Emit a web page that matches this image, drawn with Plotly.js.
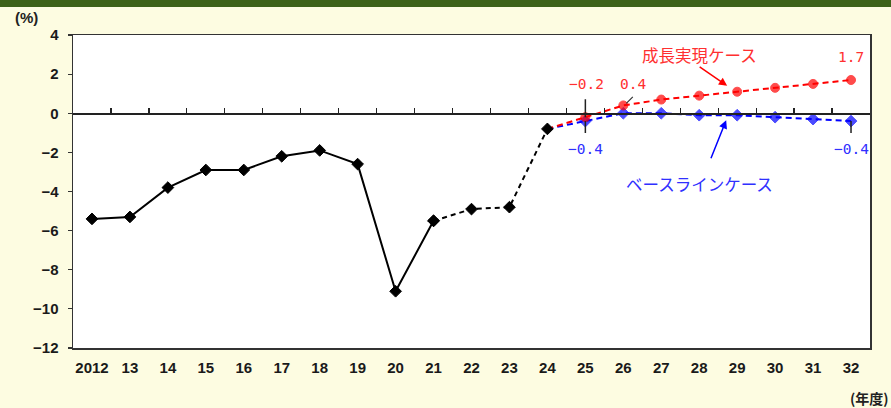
<!DOCTYPE html>
<html>
<head>
<meta charset="utf-8">
<script src="https://cdn.plot.ly/plotly-3.0.1.min.js"></script>
<style>
html,body{margin:0;padding:0;background:#FDFCE1;}
#chart{width:891px;height:408px;}
#err{position:absolute;left:100px;top:60px;color:#c00;font:12px monospace;white-space:pre;}
</style>
</head>
<body>
<div id="chart"></div>
<div id="err"></div>
<script>
window.onerror = function(m){ document.getElementById('err').textContent += m + "\n"; };
// Categories (fiscal years)
const years = ["2012","13","14","15","16","17","18","19","20","21","22","23","24","25","26","27","28","29","30","31","32"];
// Actual values (solid part): 2012-21
const actualSolid = [-5.4,-5.3,-3.8,-2.9,-2.9,-2.2,-1.9,-2.6,-9.1,-5.5,null,null,null,null,null,null,null,null,null,null,null];
// Actual / estimate (dashed part): 21-24
const actualDashed = [null,null,null,null,null,null,null,null,null,-5.5,-4.9,-4.8,-0.8,null,null,null,null,null,null,null,null];
// Growth realization case (成長実現ケース): 24-32
const growthCase = [null,null,null,null,null,null,null,null,null,null,null,null,-0.8,-0.2,0.4,0.7,0.9,1.1,1.3,1.5,1.7];
// Baseline case (ベースラインケース): 24-32
const baseCase = [null,null,null,null,null,null,null,null,null,null,null,null,-0.8,-0.4,0.0,0.0,-0.1,-0.1,-0.2,-0.3,-0.4];
const yTicks = [4,2,0,-2,-4,-6,-8,-10,-12];

const RED = "#FF0000", BLUE = "#0000FF", BLACK = "#000000";
const labelRed = "#FF3030", labelBlue = "#3030FF";
const firstIdx = arr => arr.findIndex(v => v !== null);
const sizesSkipFirst = (arr, s) => arr.map((v,i) => i === firstIdx(arr) ? 0 : s);
const fmt = v => (v < 0 ? "\u2212" : "") + Math.abs(v).toFixed(1);

const traces = [
  {x: years, y: baseCase, type: "scatter", mode: "lines+markers", cliponaxis: false,
   line: {color: BLUE, width: 2, dash: "6px,4px"},
   marker: {symbol: "diamond", size: sizesSkipFirst(baseCase, 9), color: BLUE, line: {color: BLUE, width: 1}}},
  {x: years, y: growthCase, type: "scatter", mode: "lines+markers", cliponaxis: false,
   line: {color: RED, width: 2, dash: "6px,4px"},
   marker: {symbol: "circle", size: sizesSkipFirst(growthCase, 9), color: RED, line: {color: RED, width: 1}}},
  {x: years, y: actualDashed, type: "scatter", mode: "lines+markers",
   line: {color: BLACK, width: 2, dash: "5px,4px"},
   marker: {symbol: "diamond", size: 9, color: BLACK, line: {color: BLACK, width: 1}}},
  {x: years, y: actualSolid, type: "scatter", mode: "lines+markers",
   line: {color: BLACK, width: 2},
   marker: {symbol: "diamond", size: 9, color: BLACK, line: {color: BLACK, width: 1}}},
  // carrier for the zero-line axis with ticks
  {x: years, y: years.map(() => null), xaxis: "x2", yaxis: "y", type: "scatter", mode: "markers",
   hoverinfo: "skip", showlegend: false}
];

const numFont = {family: "DejaVu Sans Mono, monospace", size: 14.5};
const jpFont = {family: "Noto Sans CJK JP, sans-serif", size: 16.5};
const ix = y => years.indexOf(y);

const annotations = [
  // value labels
  {x: ix("25"), y: growthCase[ix("25")], text: fmt(growthCase[ix("25")]), showarrow: false, xshift: 1, yshift: 33,
   font: Object.assign({}, numFont, {color: labelRed})},
  {x: ix("26"), y: growthCase[ix("26")], text: fmt(growthCase[ix("26")]), showarrow: false, xshift: 10, yshift: 21,
   font: Object.assign({}, numFont, {color: labelRed})},
  {x: ix("32"), y: growthCase[ix("32")], text: fmt(growthCase[ix("32")]), showarrow: false, yshift: 23,
   font: Object.assign({}, numFont, {color: labelRed})},
  {x: ix("25"), y: baseCase[ix("25")], text: fmt(baseCase[ix("25")]), showarrow: false, yshift: -28,
   font: Object.assign({}, numFont, {color: labelBlue})},
  {x: ix("32"), y: baseCase[ix("32")], text: fmt(baseCase[ix("32")]), showarrow: false, yshift: -28,
   font: Object.assign({}, numFont, {color: labelBlue})},
  // leader lines
  {x: ix("25"), y: growthCase[ix("25")], text: " ", showarrow: true, arrowhead: 0, ax: 0, ay: -20,
   arrowcolor: "#222", arrowwidth: 1.5, standoff: 0, font: {size: 1}},
  {x: ix("25"), y: baseCase[ix("25")], text: " ", showarrow: true, arrowhead: 0, ax: 0, ay: 14,
   arrowcolor: "#222", arrowwidth: 1.5, standoff: 0, font: {size: 1}},
  {x: ix("32"), y: baseCase[ix("32")], text: " ", showarrow: true, arrowhead: 0, ax: 0, ay: 14,
   arrowcolor: "#222", arrowwidth: 1.5, standoff: 0, font: {size: 1}},
  {x: ix("26"), y: growthCase[ix("26")], text: " ", showarrow: true, arrowhead: 0, ax: 8, ay: -8,
   xshift: 3, yshift: 2, arrowcolor: "#333", arrowwidth: 1.2, standoff: 0, font: {size: 1}},
  // case labels
  {x: ix("28"), y: 3.0, text: "成長実現ケース", showarrow: false, font: Object.assign({}, jpFont, {color: labelRed})},
  {x: ix("28"), y: -3.6, text: "ベースラインケース", showarrow: false, font: Object.assign({}, jpFont, {color: labelBlue})},
  // callout arrows
  {x: ix("29"), y: growthCase[ix("29")], text: " ", showarrow: true, arrowhead: 2, arrowsize: 1.1,
   arrowwidth: 1.5, arrowcolor: RED, ax: -29, ay: -20, xshift: -10, yshift: 6, standoff: 0, font: {size: 1}},
  {x: ix("29"), y: baseCase[ix("29")], text: " ", showarrow: true, arrowhead: 2, arrowsize: 1.1,
   arrowwidth: 1.5, arrowcolor: BLUE, ax: -16, ay: 40, xshift: -11, yshift: -5, standoff: 0, font: {size: 1}},
  // unit labels
  {xref: "paper", yref: "paper", x: -0.075, y: 1.0, yshift: 18, xanchor: "left", yanchor: "middle",
   text: "(%)", showarrow: false, font: {family: "Liberation Sans, Arial, sans-serif", size: 15, color: "#222", weight: "bold"}},
  {xref: "paper", yref: "paper", x: 1.0, xshift: 21, y: 0, yshift: -50, xanchor: "right", yanchor: "middle",
   text: "(年度)", showarrow: false, font: {family: "Noto Sans CJK JP, sans-serif", size: 14, color: "#222", weight: "bold"}}
];

const tickFont = {family: "Liberation Sans, Arial, sans-serif", size: 15, color: "#1a1a1a", weight: "bold"};

const layout = {
  width: 891, height: 408,
  margin: {l: 73, r: 21, t: 35, b: 60},
  paper_bgcolor: "#FDFCE1",
  plot_bgcolor: "#FFFFFF",
  showlegend: false,
  xaxis: {
    type: "category", range: [-0.5, years.length - 0.5], fixedrange: true,
    showgrid: false, zeroline: false,
    showline: true, linecolor: "#333", linewidth: 1.5, mirror: true,
    ticks: "", ticklabelstandoff: 5,
    tickfont: tickFont
  },
  xaxis2: {
    type: "category", overlaying: "x", anchor: "free", position: 0.75, side: "bottom",
    range: [-0.5, years.length - 0.5], fixedrange: true,
    showgrid: false, zeroline: false, showticklabels: false,
    showline: true, linecolor: "#222", linewidth: 1.5,
    ticks: "inside", tickson: "boundaries", ticklen: 5, tickwidth: 1.2, tickcolor: "#222"
  },
  yaxis: {
    range: [-12, 4], tickvals: yTicks, ticktext: yTicks.map(v => v < 0 ? "\u2212" + Math.abs(v) : String(v)),
    fixedrange: true, showgrid: false, zeroline: false,
    showline: true, linecolor: "#333", linewidth: 1.5, mirror: true,
    ticks: "outside", ticklen: 4, tickwidth: 1.2, tickcolor: "#333", ticklabelstandoff: 6,
    tickfont: tickFont
  },
  shapes: [
    {type: "rect", xref: "paper", yref: "paper", ysizemode: "pixel", yanchor: 1.0,
     x0: -0.1, x1: 1.05, y0: 35, y1: 28, fillcolor: "#3D6219", line: {width: 0}}
  ],
  annotations: annotations
};

Plotly.newPlot("chart", traces, layout, {displayModeBar: false, staticPlot: true}).catch(e => {
  document.getElementById('err').textContent += String(e) + "\n";
});
</script>
</body>
</html>
